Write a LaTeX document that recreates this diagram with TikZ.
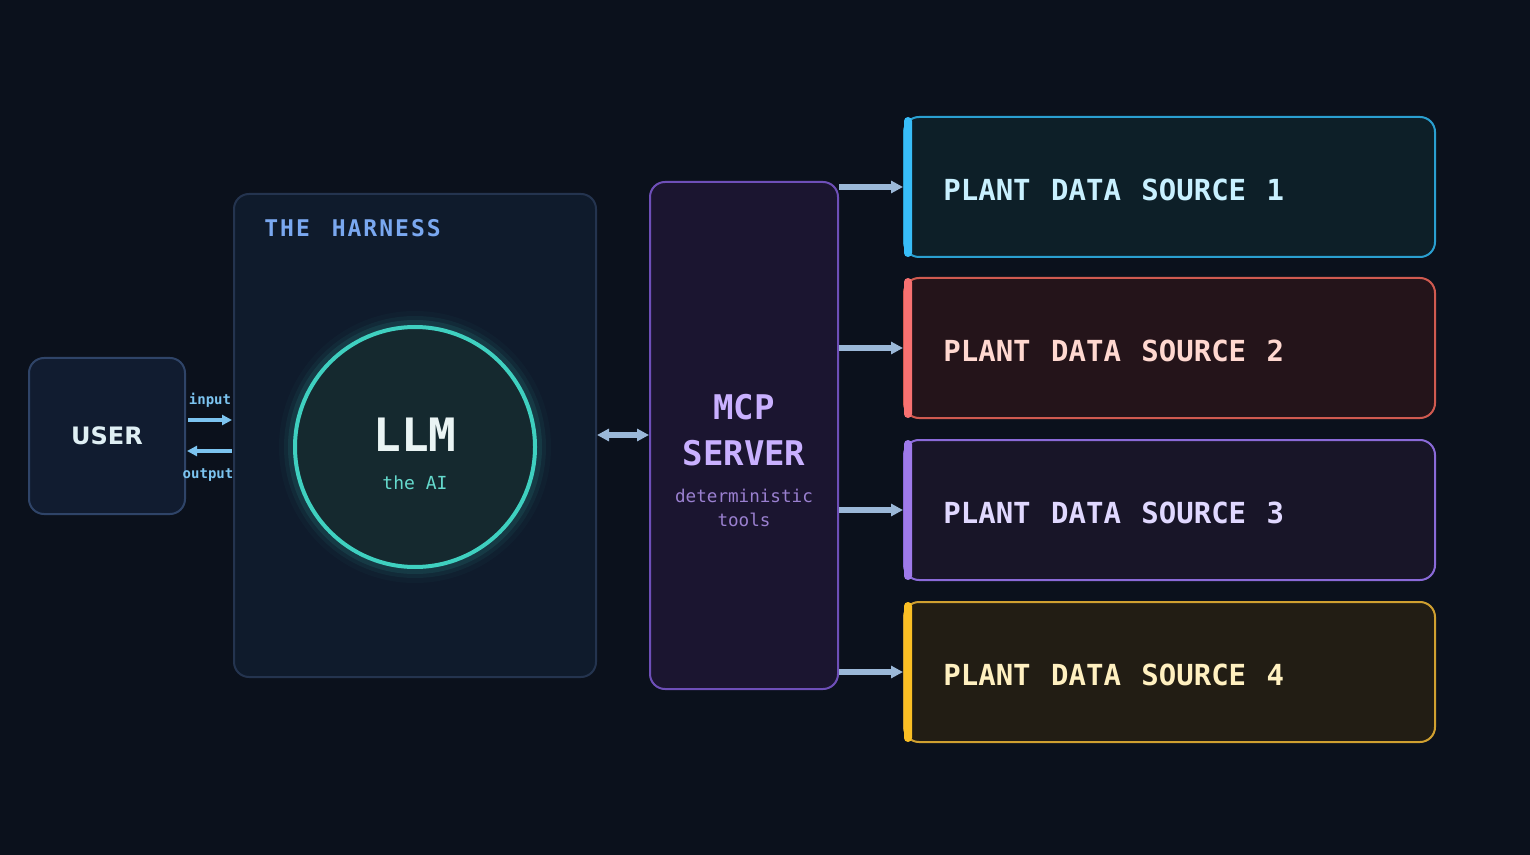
\documentclass[tikz,border=0pt]{standalone}
\usepackage{fontspec}
\setmainfont{DejaVu Sans}
\setmonofont{DejaVu Sans Mono}
\usetikzlibrary{arrows.meta,positioning}
\definecolor{bgcol}{HTML}{0B111C}
\definecolor{usrfill}{HTML}{111C30}
\definecolor{usrline}{HTML}{2F4468}
\definecolor{harfill}{HTML}{0F1B2C}
\definecolor{harline}{HTML}{24344F}
\definecolor{hartext}{HTML}{7AA8F0}
\definecolor{llmline}{HTML}{3FD0C0}
\definecolor{llmfill}{HTML}{15292F}
\definecolor{llmtext}{HTML}{EAF4F4}
\definecolor{iocol}{HTML}{7CC4F0}
\definecolor{linkcol}{HTML}{9BB8D8}
\definecolor{mcpfill}{HTML}{1B1530}
\definecolor{mcpline}{HTML}{6E4FB8}
\definecolor{mcptext}{HTML}{C9B0FF}
\definecolor{mcpsub}{HTML}{9A80D0}
\definecolor{lineA}{HTML}{2A9FD0}\definecolor{fillA}{HTML}{0D1F28}\definecolor{barA}{HTML}{38BDF8}\definecolor{textA}{HTML}{C8F0FF}
\definecolor{lineB}{HTML}{D05A50}\definecolor{fillB}{HTML}{24141A}\definecolor{barB}{HTML}{F87171}\definecolor{textB}{HTML}{FFD8D0}
\definecolor{lineC}{HTML}{8A6AD8}\definecolor{fillC}{HTML}{181528}\definecolor{barC}{HTML}{9F7AEA}\definecolor{textC}{HTML}{E0D8FF}
\definecolor{lineD}{HTML}{D0A030}\definecolor{fillD}{HTML}{221D14}\definecolor{barD}{HTML}{FBBF24}\definecolor{textD}{HTML}{FFF0C0}
\begin{document}
\begin{tikzpicture}[
    % styles
    x=0.5pt, y=-0.5pt,
    box/.style={draw, rounded corners=7.5pt, line width=1pt},
    src box/.style={box, minimum width=265.5pt, minimum height=70pt},
    src text/.style={font=\ttfamily\bfseries\fontsize{14.5}{16}\selectfont, anchor=west, inner sep=0pt},
    io arrow/.style={-{Triangle[length=5pt,width=5pt]}, line width=2pt, iocol},
    link arrow/.style={-{Triangle[length=6pt,width=6pt]}, line width=3pt, linkcol},
]
    % background
    \fill[bgcol] (0,0) rectangle (1530,855);
    \useasboundingbox (0,0) rectangle (1530,855);

    % --- user ---
    \node[box, fill=usrfill, draw=usrline, minimum width=78pt, minimum height=78pt,
          font=\bfseries\fontsize{12}{14}\selectfont, text=llmtext!90!iocol] (user) at (107,436) {USER};

    % --- harness ---
    \node[box, fill=harfill, draw=harline, minimum width=181pt, minimum height=241.5pt] (harness) at (415,435.5) {};
    \node[anchor=west, inner sep=0pt, text=hartext, font=\ttfamily\bfseries\fontsize{11.5}{13}\selectfont] (hartitle) at (264,228) {T\kern1ptH\kern1ptE\ \kern4ptH\kern1ptA\kern1ptR\kern1ptN\kern1ptE\kern1ptS\kern1ptS};

    % --- llm with glow ---
    \foreach \r/\o in {136/0.03,131/0.06,127/0.1}
        \fill[llmline, opacity=\o] (415,447) circle (\r*0.5pt);
    \node[circle, draw=llmline, line width=2pt, fill=llmfill, minimum size=120pt] (llm) at (415,447) {};
    \node[text=llmtext, font=\ttfamily\bfseries\fontsize{23}{26}\selectfont] (llmname) at (415,435) {LLM};
    \node[text=llmline!80!white, font=\ttfamily\fontsize{9}{11}\selectfont] (llmsub) at (415,483) {the AI};

    % --- input / output ---
    \coordinate (inA) at (188,420); \coordinate (inB) at (232,420);
    \coordinate (outA) at (232,451); \coordinate (outB) at (187,451);
    \draw[io arrow] (inA) -- (inB);
    \draw[io arrow] (outA) -- (outB);
    \node[text=iocol, font=\ttfamily\bfseries\fontsize{7}{8}\selectfont] (inlbl) at (210,400) {input};
    \node[text=iocol, font=\ttfamily\bfseries\fontsize{7}{8}\selectfont] (outlbl) at (208,475) {output};

    % --- mcp server ---
    \node[box, fill=mcpfill, draw=mcpline, minimum width=94pt, minimum height=253.5pt] (mcp) at (744,435.5) {};
    \node[text=mcptext, font=\ttfamily\bfseries\fontsize{17}{23}\selectfont, align=center] (mcpname) at (744,430) {MCP\\SERVER};
    \node[text=mcpsub, font=\ttfamily\fontsize{8.8}{12}\selectfont, align=center] (mcpsub) at (744,508) {deterministic\\tools};
    \draw[link arrow, {Triangle[length=6pt,width=6pt]}-{Triangle[length=6pt,width=6pt]}] (harness.east|-0,435) -- (mcp.west|-0,435);

    % --- plant data sources ---
    \foreach \n/\y/\c in {1/187/A, 2/348/B, 3/510/C, 4/672/D} {
        \node[src box, fill=fill\c, draw=line\c] (src-\n) at (1169.5,\y) {};
        \fill[bar\c, rounded corners=2pt] (904,\y-70) rectangle (912,\y+70);
        \node[src text, text=text\c] (srctext-\n) at (943,\y+3) {PLANT\ \kern1.5ptDATA\ \kern1.5ptSOURCE\ \kern1.5pt\n};
        \draw[link arrow] (mcp.east|-0,\y) -- (src-\n.west);
    }
\end{tikzpicture}
\end{document}
